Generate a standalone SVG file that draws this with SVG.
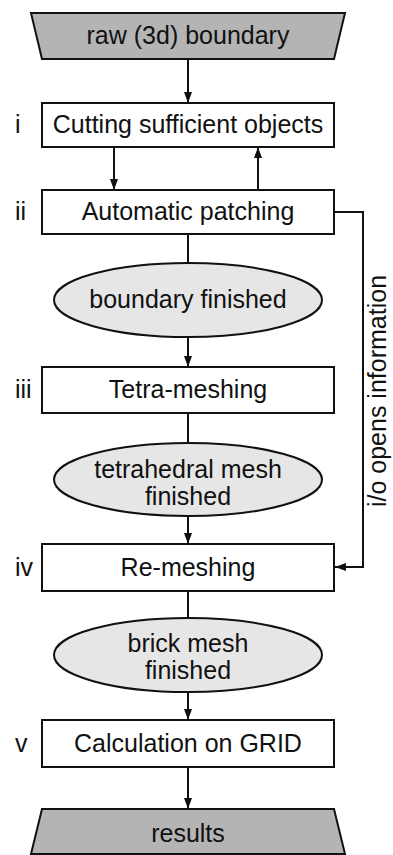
<svg xmlns="http://www.w3.org/2000/svg" width="393" height="855" viewBox="0 0 393 855">
  <style>
    .box { fill: #ffffff; stroke: #111111; stroke-width: 2; }
    .term { fill: #b4b4b4; stroke: #111111; stroke-width: 2; stroke-linejoin: miter; }
    .state { fill: #e6e6e6; stroke: #111111; stroke-width: 2; }
    .lbl { font-family: "Liberation Sans", Arial, sans-serif; font-size: 25px; fill: #111111; text-anchor: middle; }
    .step { font-family: "Liberation Sans", Arial, sans-serif; font-size: 25px; fill: #111111; text-anchor: start; }
    .wire { fill: none; stroke: #111111; stroke-width: 2; }
    .head { marker-end: url(#arrow); }
  </style>
  <defs>
    <marker id="arrow" viewBox="0 0 11 8" refX="11" refY="4" markerWidth="11" markerHeight="8" markerUnits="userSpaceOnUse" orient="auto">
      <path d="M0,0 L11,4 L0,8 Z" fill="#111111"/>
    </marker>
  </defs>

  <rect width="393" height="855" fill="#ffffff"/>

  <!-- connectors -->
  <g id="connectors">
    <path class="wire head" d="M188,59 V103"/>
    <path class="wire head" d="M114,147 V190"/>
    <path class="wire head" d="M258,190 V147"/>
    <path class="wire" d="M188,234 V263"/>
    <path class="wire head" d="M188,337 V367"/>
    <path class="wire" d="M188,413 V443"/>
    <path class="wire head" d="M188,516 V544"/>
    <path class="wire" d="M188,591 V618"/>
    <path class="wire head" d="M188,692 V720"/>
    <path class="wire head" d="M188,767 V809"/>
    <path class="wire head" d="M334,212 H363 V567 H335"/>
    <text class="lbl" transform="translate(386,391) rotate(-90)">i/o opens information</text>
  </g>

  <!-- input terminal -->
  <g id="raw-boundary">
    <polygon class="term" points="31,13 345,13 334,59 42,59"/>
    <text class="lbl" x="188" y="44">raw (3d) boundary</text>
  </g>

  <!-- step i -->
  <g id="cutting">
    <rect class="box" x="42" y="103" width="292" height="44"/>
    <text class="lbl" x="188" y="133">Cutting sufficient objects</text>
    <text class="step" x="15" y="133">i</text>
  </g>

  <!-- step ii -->
  <g id="patching">
    <rect class="box" x="42" y="190" width="292" height="44"/>
    <text class="lbl" x="188" y="220">Automatic patching</text>
    <text class="step" x="15" y="220">ii</text>
  </g>

  <g id="boundary-finished">
    <ellipse class="state" cx="188" cy="300" rx="134" ry="37"/>
    <text class="lbl" x="188" y="308">boundary finished</text>
  </g>

  <!-- step iii -->
  <g id="tetra-meshing">
    <rect class="box" x="42" y="367" width="292" height="46"/>
    <text class="lbl" x="188" y="398">Tetra-meshing</text>
    <text class="step" x="15" y="398">iii</text>
  </g>

  <g id="tetra-finished">
    <ellipse class="state" cx="188" cy="479.5" rx="134" ry="36.5"/>
    <text class="lbl" x="188" y="478">tetrahedral mesh</text>
    <text class="lbl" x="188" y="505">finished</text>
  </g>

  <!-- step iv -->
  <g id="re-meshing">
    <rect class="box" x="42" y="544" width="292" height="47"/>
    <text class="lbl" x="188" y="576">Re-meshing</text>
    <text class="step" x="15" y="576">iv</text>
  </g>

  <g id="brick-finished">
    <ellipse class="state" cx="188" cy="655" rx="134" ry="37"/>
    <text class="lbl" x="188" y="652">brick mesh</text>
    <text class="lbl" x="188" y="679">finished</text>
  </g>

  <!-- step v -->
  <g id="calculation">
    <rect class="box" x="42" y="720" width="292" height="47"/>
    <text class="lbl" x="188" y="752">Calculation on GRID</text>
    <text class="step" x="15" y="752">v</text>
  </g>

  <!-- output terminal -->
  <g id="results">
    <polygon class="term" points="42,809 334,809 345,854 31,854"/>
    <text class="lbl" x="188" y="842">results</text>
  </g>
</svg>
